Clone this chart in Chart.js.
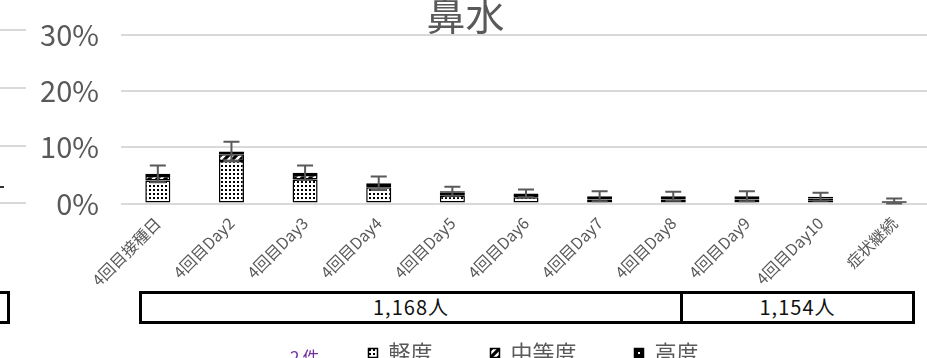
<!DOCTYPE html>
<html>
<head>
<meta charset="utf-8">
<script src="https://cdn.jsdelivr.net/npm/chart.js@4/dist/chart.umd.min.js"></script>
<style>
body { margin: 0; width: 927px; height: 358px; overflow: hidden; position: relative; background: #fff; font-family: 'Noto Sans CJK JP', sans-serif; }
#wrap { position: absolute; left: 0; top: -4px; width: 931px; height: 378px; }
.box { position: absolute; top: 291px; height: 33px; box-sizing: border-box; border: 3px solid #000; font-size: 20px; color: #111; text-align: center; line-height: 26px; background: #fff; letter-spacing: 1px; }
.grid-left { position: absolute; left: 0; width: 26px; height: 2px; background: #d9d9d9; }
</style>
</head>
<body>
<div id="wrap"><canvas id="chart" width="931" height="378"></canvas></div>

<!-- leftovers of the neighbouring chart -->
<div class="grid-left" style="top:29px"></div>
<div class="grid-left" style="top:87px"></div>
<div class="grid-left" style="top:145px"></div>
<div class="grid-left" style="top:202px"></div>
<div style="position:absolute;left:0;top:186px;width:4px;height:2px;background:#333"></div>
<div class="box" style="left:-30px;width:40px"></div>

<div class="box" style="left:139px;width:544px">1,168人</div>
<div class="box" style="left:680px;width:235px">1,154人</div>
<div style="position:absolute;left:290px;top:344px;font-size:17px;color:#7030a0;letter-spacing:3px">2件</div>

<script>
// カテゴリ
var categories = ['4回目接種日', '4回目Day2', '4回目Day3', '4回目Day4', '4回目Day5', '4回目Day6',
	'4回目Day7', '4回目Day8', '4回目Day9', '4回目Day10', '症状継続'];
// 割合 (%)
var light    = [4.1, 7.6, 4.3, 2.9, 1.4, 1.1, 0.7, 0.7, 0.7, 0.6, 0.1];
var moderate = [0.8, 1.2, 0.8, 0.4, 0.5, 0.4, 0.3, 0.3, 0.3, 0.3, 0.1];
var severe   = [0.4, 0.5, 0.4, 0.3, 0.3, 0.3, 0.3, 0.3, 0.3, 0.3, 0.2];
var errs     = [1.5, 1.7, 1.3, 1.2, 0.8, 0.7, 0.9, 0.8, 0.9, 0.7, 0.5];
var yTicks   = [0, 10, 20, 30];

var font = "'Noto Sans CJK JP', sans-serif";

function make_pattern(kind) {
	var c = document.createElement('canvas');
	var ctx = c.getContext('2d');
	if (kind == 'dots') {
		c.width = 4; c.height = 4;
		ctx.fillStyle = '#fff'; ctx.fillRect(0, 0, 4, 4);
		ctx.fillStyle = '#000'; ctx.fillRect(1, 1, 2, 2);
	} else if (kind == 'hatch') {
		c.width = 8; c.height = 8;
		ctx.fillStyle = '#000'; ctx.fillRect(0, 0, 8, 8);
		ctx.strokeStyle = '#fff'; ctx.lineWidth = 2.5;
		ctx.beginPath();
		ctx.moveTo(-2, 10); ctx.lineTo(10, -2);
		ctx.moveTo(-2, 2); ctx.lineTo(2, -2);
		ctx.moveTo(6, 10); ctx.lineTo(10, 6);
		ctx.stroke();
	} else {
		c.width = 6; c.height = 6;
		ctx.fillStyle = '#000'; ctx.fillRect(0, 0, 6, 6);
		ctx.fillStyle = '#fff'; ctx.fillRect(2, 2, 2, 2);
	}
	return ctx.createPattern(c, 'repeat');
}

var errorBars = {
	id: 'errorBars',
	afterDatasetsDraw: function(chart) {
		var ctx = chart.ctx;
		var y = chart.scales.y;
		var meta = chart.getDatasetMeta(chart.data.datasets.length - 1);
		ctx.save();
		ctx.strokeStyle = '#595959';
		ctx.lineWidth = 2;
		meta.data.forEach(function(bar, i) {
			var total = light[i] + moderate[i] + severe[i];
			var top = y.getPixelForValue(total + errs[i]);
			var bot = y.getPixelForValue(Math.max(total - errs[i], 0));
			ctx.beginPath();
			ctx.moveTo(bar.x, top); ctx.lineTo(bar.x, bot);
			ctx.moveTo(bar.x - 8, top); ctx.lineTo(bar.x + 8, top);
			ctx.moveTo(bar.x - 8, bot); ctx.lineTo(bar.x + 8, bot);
			ctx.stroke();
		});
		ctx.restore();
	}
};

// 凡例を右にずらす
var legendShift = {
	id: 'legendShift',
	afterLayout: function(chart) {
		chart.legend.left += 68;
		chart.legend.right += 68;
	}
};

function dataset(label, data, kind) {
	return {
		label: label,
		data: data,
		backgroundColor: make_pattern(kind),
		borderColor: '#000',
		borderWidth: 1.5,
		borderSkipped: false,
		barPercentage: 0.34,
		categoryPercentage: 1
	};
}

new Chart(document.getElementById('chart'), {
	type: 'bar',
	data: {
		labels: categories,
		datasets: [
			dataset('軽度', light, 'dots'),
			dataset('中等度', moderate, 'hatch'),
			dataset('高度', severe, 'solid')
		]
	},
	options: {
		responsive: false,
		animation: false,
		layout: { padding: 0 },
		plugins: {
			title: {
				display: true,
				text: '鼻水',
				color: '#595959',
				font: { family: font, size: 39, weight: 'normal', lineHeight: 1 },
				padding: { top: -6, bottom: 1 }
			},
			legend: {
				position: 'bottom',
				labels: {
					color: '#595959',
					font: { family: font, size: 22 },
					boxWidth: 9,
					boxHeight: 9,
					padding: 58
				}
			},
			tooltip: { enabled: false }
		},
		scales: {
			x: {
				stacked: true,
				grid: { display: false },
				border: { display: false },
				ticks: {
					color: '#595959',
					font: { family: font, size: 16 },
					minRotation: 45,
					maxRotation: 45,
					padding: 2
				},
				afterFit: function(scale) { scale.height = 80.5; }
			},
			y: {
				stacked: true,
				min: 0,
				max: 30,
				border: { display: false },
				grid: { color: '#d9d9d9', lineWidth: 2, drawTicks: false },
				afterBuildTicks: function(scale) {
					scale.ticks = yTicks.map(function(v) { return { value: v }; });
				},
				ticks: {
					color: '#595959',
					font: { family: font, size: 29 },
					padding: 22,
					callback: function(v) { return v + '%'; }
				},
				afterFit: function(scale) { scale.width = 121; }
			}
		}
	},
	plugins: [errorBars, legendShift]
});
</script>
</body>
</html>
